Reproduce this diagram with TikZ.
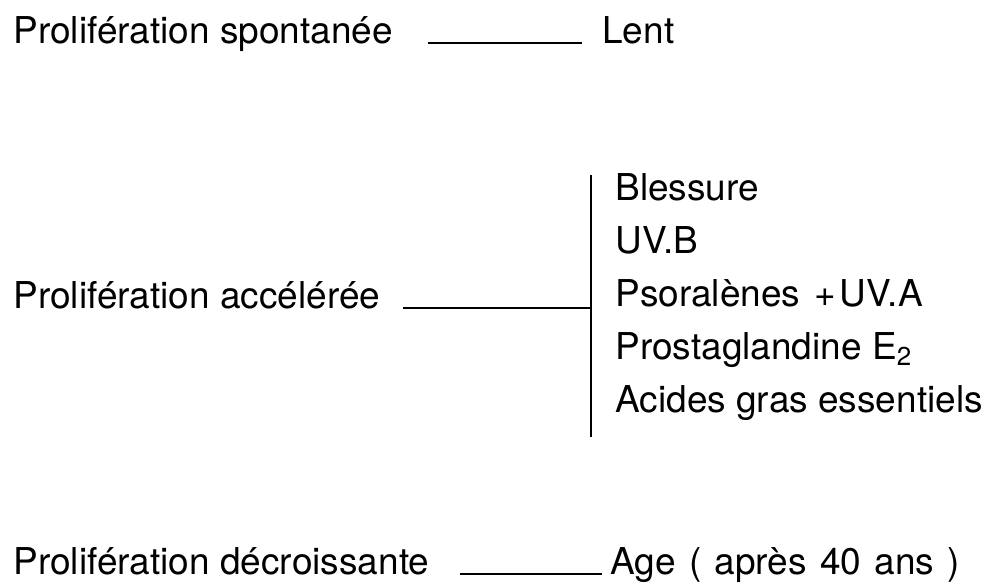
\documentclass[tikz,border=0pt]{standalone}
\usepackage{fontspec}
\setmainfont{TeX Gyre Heros}
\usepackage{tikz}

\tikzset{lbl/.style={anchor=base west, inner sep=0pt, font=\fontsize{18.5}{22}\selectfont}}

\begin{document}
\begin{tikzpicture}[x=0.5pt, y=-0.5pt]
        \useasboundingbox (0,0) rectangle (990,585);
        \path (13,43)   node [lbl] (spont) {Prolifération spontanée}
              (602,43)  node [lbl] (lent)  {Lent}
              (13,308)  node [lbl] (accel) {Prolifération accélérée}
              (13,574)  node [lbl] (decr)  {Prolifération décroissante}
              (610,574) node [lbl] (age)   {\spaceskip=0.36em Age ( après 40 ans )};
        \path (615,200) node [lbl] (f1) {Blessure}
              (615,253) node [lbl] (f2) {UV.B}
              (615,306) node [lbl] (f3) {Psoralènes\hspace{0.38em}+\hspace{0.1em}UV.A}
              (615,359) node [lbl] (f4) {Prostaglandine E\textsubscript{2}}
              (615,412) node [lbl] (f5) {Acides gras essentiels};
        \coordinate (bartop) at (591,175);
        \coordinate (barbot) at (591,437);
        \draw [line width=1.2pt] (bartop) -- (barbot);
        \draw [line width=0.9pt] ([xshift=17pt]spont.base east) -- ([xshift=-10pt]lent.base west);
        \draw [line width=0.9pt] ([xshift=11pt]accel.base east) -- (bartop |- accel.base);
        \draw [line width=0.9pt] ([xshift=15pt]decr.base east) -- ([xshift=-4pt]age.base west);
    \end{tikzpicture}
\end{document}
